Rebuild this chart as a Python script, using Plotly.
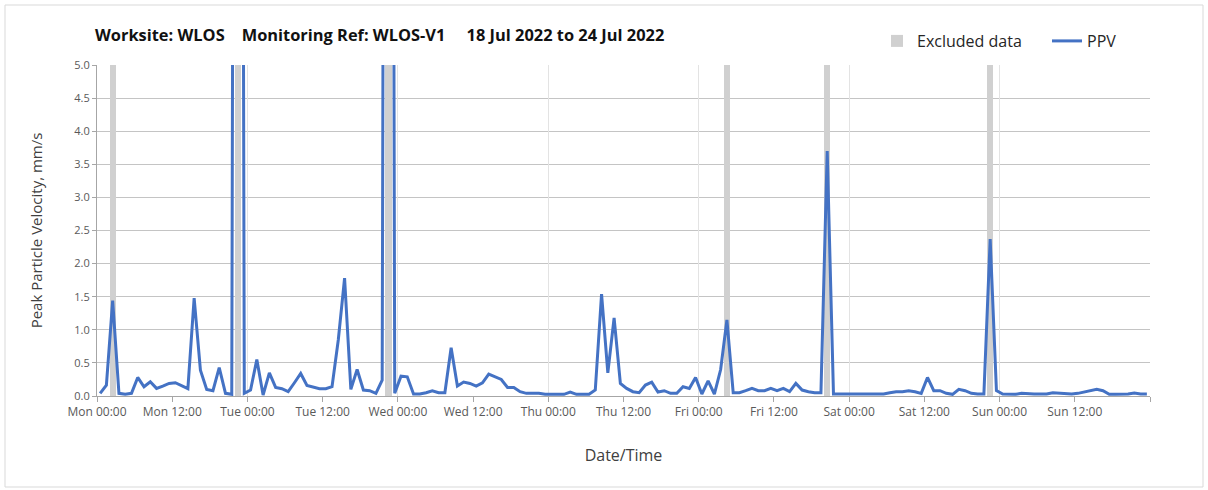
import pandas as pd
import plotly.graph_objects as go

# ---------------- data ----------------
START = "2022-07-18 00:30"          # first hourly PPV reading (interval mid-point)
AXIS_START = "2022-07-18 00:00"
AXIS_END = "2022-07-25 00:00"
Y_MAX = 5.0

ppv_mon = [0.04, 0.165, 1.44, 0.04, 0.025, 0.04, 0.28, 0.14, 0.215, 0.115, 0.15, 0.19,
           0.20, 0.15, 0.11, 1.48, 0.39, 0.10, 0.08, 0.43, 0.04, 0.025, 40.0, 0.04]
ppv_tue = [0.09, 0.55, 0.015, 0.35, 0.13, 0.11, 0.065, 0.20, 0.34, 0.16, 0.14, 0.11,
           0.11, 0.14, 0.85, 1.78, 0.10, 0.40, 0.09, 0.08, 0.04, 0.24, 40.0, 0.04]
ppv_wed = [0.30, 0.29, 0.03, 0.03, 0.05, 0.08, 0.05, 0.05, 0.73, 0.15, 0.21, 0.19,
           0.15, 0.20, 0.33, 0.29, 0.25, 0.13, 0.13, 0.065, 0.04, 0.04, 0.04, 0.025]
ppv_thu = [0.025, 0.025, 0.025, 0.06, 0.025, 0.025, 0.025, 0.09, 1.54, 0.35, 1.18, 0.19,
           0.115, 0.065, 0.05, 0.165, 0.21, 0.06, 0.08, 0.04, 0.04, 0.14, 0.115, 0.28]
ppv_fri = [0.03, 0.23, 0.03, 0.40, 1.15, 0.05, 0.05, 0.08, 0.115, 0.08, 0.08, 0.115,
           0.08, 0.115, 0.065, 0.19, 0.09, 0.065, 0.05, 0.05, 3.70, 0.03, 0.03, 0.02]
ppv_sat = [0.02, 0.03, 0.02, 0.02, 0.03, 0.03, 0.05, 0.065, 0.065, 0.08, 0.065, 0.04,
           0.28, 0.08, 0.08, 0.04, 0.025, 0.10, 0.08, 0.04, 0.03, 0.03, 2.37, 0.08]
ppv_sun = [0.03, 0.03, 0.025, 0.04, 0.03, 0.03, 0.03, 0.03, 0.05, 0.04, 0.03, 0.03,
           0.04, 0.06, 0.08, 0.10, 0.08, 0.025, 0.025, 0.025, 0.03, 0.045, 0.03, 0.03]

excluded_times = ["2022-07-18 02:30", "2022-07-18 22:30", "2022-07-19 22:30",
                  "2022-07-22 04:30", "2022-07-22 20:30", "2022-07-23 22:30"]

ppv = ppv_mon + ppv_tue + ppv_wed + ppv_thu + ppv_fri + ppv_sat + ppv_sun
times = pd.date_range(START, periods=len(ppv), freq="h")
excluded_level = [Y_MAX] * len(excluded_times)

# x ticks every 12 h; the closing tick at the end of the axis carries no label
tick_times = pd.date_range(AXIS_START, AXIS_END, freq="12h")
tick_labels = [t.strftime("%a %H:%M") for t in tick_times[:-1]] + [""]

# ---------------- styling ----------------
HOUR_MS = 3600 * 1000
FONT = "Open Sans"
AXIS_GREY = "#a6a6a6"
TEXT_GREY = "#595959"
W, H = 1208, 490
L, R, T, B = 97, 58, 65, 94
PW, PH = W - L - R, H - T - B

fig = go.Figure()

fig.add_trace(go.Bar(
    x=excluded_times, y=excluded_level, name="Excluded data",
    width=[1.0 * HOUR_MS] * len(excluded_times),
    marker=dict(color="#d0d0d0", line=dict(width=0)),
    hoverinfo="skip",
))
fig.add_trace(go.Scatter(
    x=times, y=ppv, name="PPV", mode="lines",
    line=dict(color="#4472C4", width=3),
))
# helper trace so the daily grid axis is drawn
fig.add_trace(go.Scatter(
    x=[AXIS_START, AXIS_END], y=[None, None], xaxis="x2",
    showlegend=False, hoverinfo="skip", mode="lines",
))

# light frame round the whole chart area
fig.add_shape(
    type="rect", xref="paper", yref="paper",
    x0=(5 - L) / PW, x1=(W - 5 - L) / PW,
    y0=(H - B - (H - 3)) / PH, y1=(H - B - 5) / PH,
    line=dict(color="#d9d9d9", width=1), fillcolor="rgba(0,0,0,0)", layer="below",
)

fig.update_layout(
    width=W, height=H,
    margin=dict(l=L, r=R, t=T, b=B, autoexpand=False),
    paper_bgcolor="white", plot_bgcolor="white",
    font=dict(family=FONT, color="#404040"),
    bargap=0,
    title=dict(
        text="Worksite: WLOS&nbsp;&nbsp;&nbsp;&nbsp;Monitoring Ref: WLOS-V1&nbsp;&nbsp;&nbsp;&nbsp;&nbsp;18 Jul 2022 to 24 Jul 2022",
        font=dict(family=FONT, size=16.4, color="#111111", weight="bold"),
        x=95 / W, xanchor="left", xref="container",
        y=1 - 35 / H, yanchor="middle", yref="container",
    ),
    legend=dict(
        orientation="h", xref="container", yref="container",
        x=877 / W, xanchor="left", y=1 - 41 / H, yanchor="middle",
        font=dict(family=FONT, size=16, color="#262626"),
        bgcolor="rgba(0,0,0,0)", itemwidth=30, tracegroupgap=0,
        entrywidth=125, entrywidthmode="pixels",
    ),
    xaxis=dict(
        type="date", range=[AXIS_START, AXIS_END],
        tickvals=tick_times, ticktext=tick_labels,
        ticks="outside", ticklen=5, tickcolor=AXIS_GREY,
        showline=True, linecolor=AXIS_GREY, linewidth=1,
        showgrid=False, zeroline=False, automargin=False,
        tickfont=dict(size=12, color=TEXT_GREY),
        title=dict(text="Date/Time", font=dict(size=16, color="#404040"), standoff=30),
    ),
    xaxis2=dict(
        type="date", range=[AXIS_START, AXIS_END], overlaying="x", side="bottom",
        tick0=AXIS_START, dtick=24 * HOUR_MS,
        showgrid=True, gridcolor="#e3e3e3", gridwidth=1,
        showticklabels=False, ticks="", showline=False, zeroline=False,
    ),
    yaxis=dict(
        range=[0, Y_MAX], dtick=0.5, tickformat=".1f",
        ticks="outside", ticklen=4, tickcolor=AXIS_GREY,
        showline=True, linecolor=AXIS_GREY, linewidth=1,
        showgrid=True, gridcolor="#c4c4c4", gridwidth=1, zeroline=False,
        automargin=False,
        tickfont=dict(size=11, color=TEXT_GREY),
        title=dict(text="Peak Particle Velocity, mm/s", font=dict(size=15, color="#404040"), standoff=28),
    ),
)

# the page body has no margin, so the figure sits at the window's top-left corner
fig.write_html("out.html", config={"displayModeBar": False},
               post_script="document.body.style.margin='0';")
